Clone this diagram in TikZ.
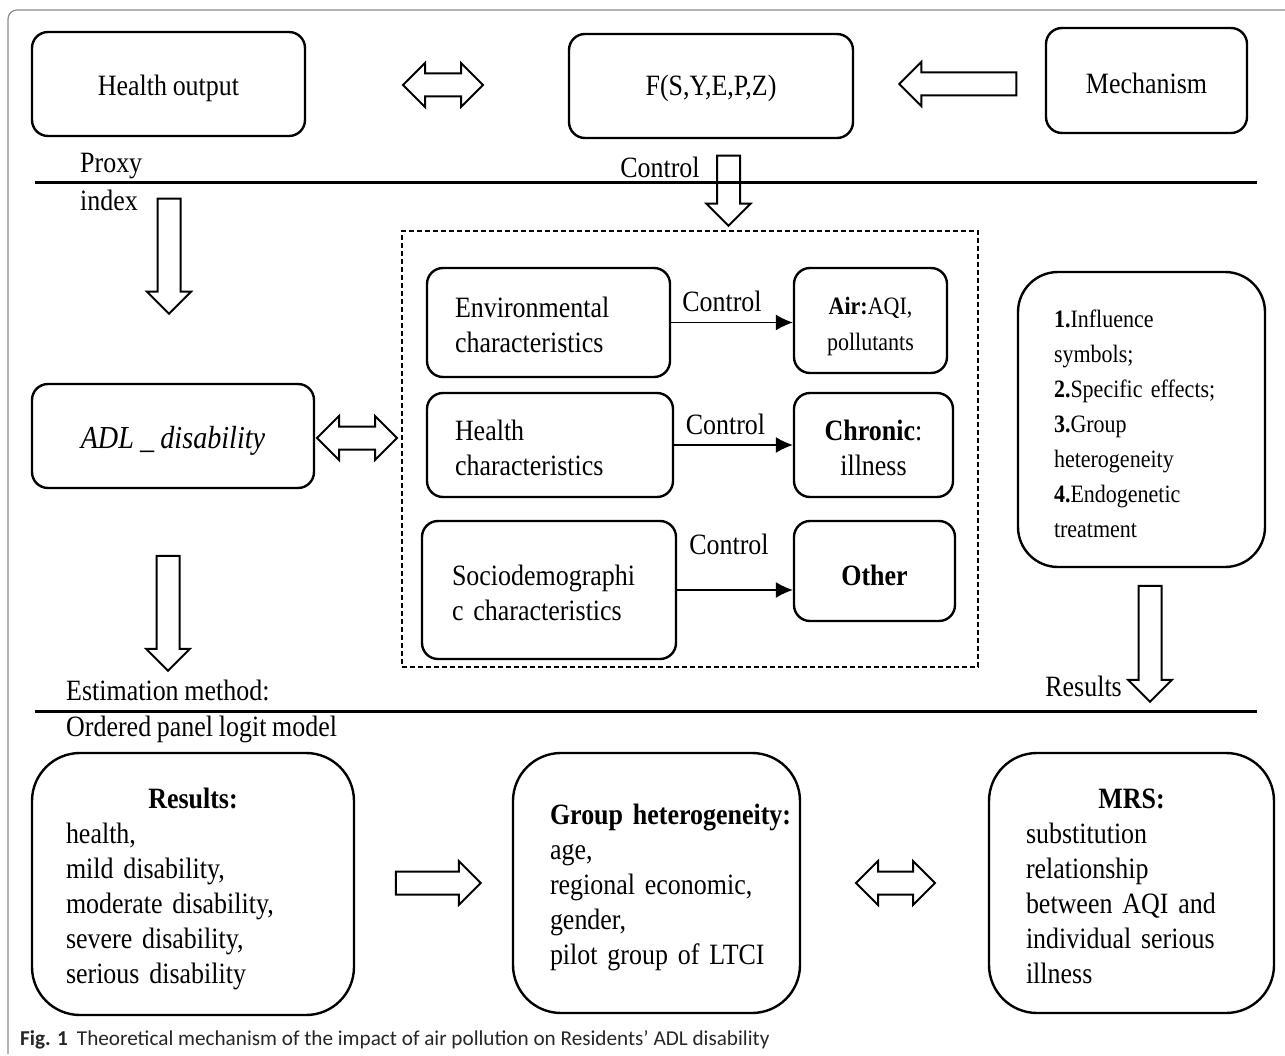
\documentclass[tikz,border=0pt]{standalone}
\usepackage{fontspec}
\setmainfont[FakeStretch=0.88, WordSpace=0.88]{Liberation Serif}
\newfontfamily\capfont{Carlito}
\usetikzlibrary{shapes,arrows.meta}

\begin{document}
\begin{tikzpicture}[x=1pt, y=-1pt, inner sep=0pt, font=\fontsize{29.5}{35}\selectfont]
    \tikzstyle{box}=[rectangle, rounded corners=16pt, draw=black, line width=2.4pt, text=black, align=center, text height=26pt]
    \tikzstyle{big}=[box, rounded corners=48pt, align=left]
    \tikzstyle{blk}=[single arrow, draw=black, line width=2pt, inner sep=10.5pt, single arrow head extend=10.5pt]
    \tikzstyle{dblk}=[double arrow, draw=black, line width=2pt, inner sep=10.5pt, double arrow head extend=10.5pt]
    \tikzstyle{ctrl}=[-{Latex[length=17pt,width=16pt]}, line width=1.3pt]
    \tikzstyle{sep}=[line width=3pt]

    \useasboundingbox (0,0) rectangle (1285,1056);
    \draw[black!45, line width=1.2pt, rounded corners=9pt] (1285,10) -- (8,10) -- (8,1054);

    % top row
    \node[box, minimum width=273pt, minimum height=104pt, text height=30pt] (health) at (168.5,84) {Health output};
    \node[box, minimum width=284pt, minimum height=104pt] (func) at (711,86) {F(S,Y,E,P,Z)};
    \node[box, minimum width=201pt, minimum height=105pt] (mech) at (1146.5,80.5) {Mechanism};

    \node[dblk, minimum height=80pt] (a1) at (443,85) {};
    \node[blk, minimum height=117pt, shape border rotate=180] (a2) at (963.5,84) {};

    \node[anchor=west] (proxy) at (80,166) {Proxy};
    \node[anchor=west] (index) at (80,200) {index};
    \node (ctrltop) at (660,167) {Control};
    \draw[sep] (35,183) -- (1257,183);
    \node[blk, minimum height=70pt, shape border rotate=270] (a3) at (728.5,185) {};
    \node[blk, minimum height=115pt, shape border rotate=270] (a4) at (169,250.5) {};

    % middle part
    \node[box, minimum width=282pt, minimum height=104pt, text height=31pt, font=\fontsize{32}{35}\selectfont\itshape] (adl) at (173,436) {ADL \_ disability};
    \node[dblk, minimum height=80pt] (a5) at (357,438) {};
    \node[blk, minimum height=115pt, shape border rotate=270] (a6) at (168,607.5) {};

    \node[draw=black, dash pattern=on 5pt off 3pt, line width=1.5pt, minimum width=576pt, minimum height=436pt] (ctrlbox) at (690,449) {};

    \node[box, align=left, text width=187pt, inner xsep=28pt, minimum height=109pt] (env) at (548.5,322.5) {Environmental\\characteristics};
    \node[box, align=left, text width=190pt, inner xsep=28pt, minimum height=104pt] (hchar) at (550,445) {Health\\characteristics};
    \node[box, align=left, text width=194pt, inner xsep=30pt, minimum height=138pt] (socio) at (549,590) {Sociodemographi\\c characteristics};

    \node[box, text width=153pt, minimum height=105pt, text height=29pt, font=\fontsize{25}{36}\selectfont] (air) at (870.5,320.5) {\textbf{Air:}AQI,\\pollutants};
    \node[box, text width=159pt, minimum height=104pt] (chron) at (873.5,445) {\textbf{Chronic}:\\illness};
    \node[box, minimum width=161pt, minimum height=100pt, text height=30pt] (other) at (874.5,571) {\textbf{Other}};

    \draw[ctrl] (env.east) -- (env.east -| air.west) node[midway, above=10pt, xshift=-10pt] (c1) {Control};
    \draw[ctrl] (hchar.east) -- (hchar.east -| chron.west) node[midway, above=10pt, xshift=-8pt] (c2) {Control};
    \draw[ctrl] (socio.east) -- (socio.east -| other.west) node[midway, above=35pt, xshift=-6pt] (c3) {Control};

    \node[box, rounded corners=40pt, align=left, text width=175pt, inner xsep=36pt, minimum height=295pt, font=\fontsize{25}{35}\selectfont] (eff) at (1141.5,419.5)
      {\textbf{1.}Influence\\symbols;\\\textbf{2.}Specific effects;\\\textbf{3.}Group\\heterogeneity\\\textbf{4.}Endogenetic\\treatment};
    \node[blk, minimum height=116pt, shape border rotate=270] (a7) at (1150,638) {};
    \node[anchor=east] (resl) at (1122,686) {Results};

    \node[anchor=west] (est) at (66,690) {Estimation method:};
    \draw[sep] (35,711) -- (1257,711);
    \node[anchor=west] (olm) at (66,729) {Ordered panel logit model};

    % bottom row
    \node[big, text width=254pt, inner xsep=34pt, minimum height=262pt, text height=31pt] (res) at (193,884)
      {\makebox[\linewidth]{\textbf{Results:}}\\health,\\mild disability,\\moderate disability,\\severe disability,\\serious disability};
    \node[big, text width=213pt, inner xsep=37pt, minimum height=260pt, text height=30pt] (grp) at (656.5,883)
      {\mbox{\textbf{Group heterogeneity:}}\\age,\\\mbox{regional economic,}\\gender,\\\mbox{pilot group of LTCI}};
    \node[big, text width=211pt, inner xsep=37pt, minimum height=260pt] (mrs) at (1131.5,883)
      {\makebox[\linewidth]{\textbf{MRS:}}\\substitution\\relationship\\between AQI and\\individual serious\\illness};

    \node[blk, minimum height=85pt] (a8) at (432.5,883) {};
    \node[dblk, minimum height=79pt] (a9) at (895.5,883) {};

    \node[anchor=west, font=\capfont\fontsize{21.2}{24}\selectfont, text=black!85] (cap) at (20,1040)
      {\textbf{Fig. 1}\hspace{9pt}Theoretical mechanism of the impact of air pollution on Residents’ ADL disability};
\end{tikzpicture}
\end{document}
